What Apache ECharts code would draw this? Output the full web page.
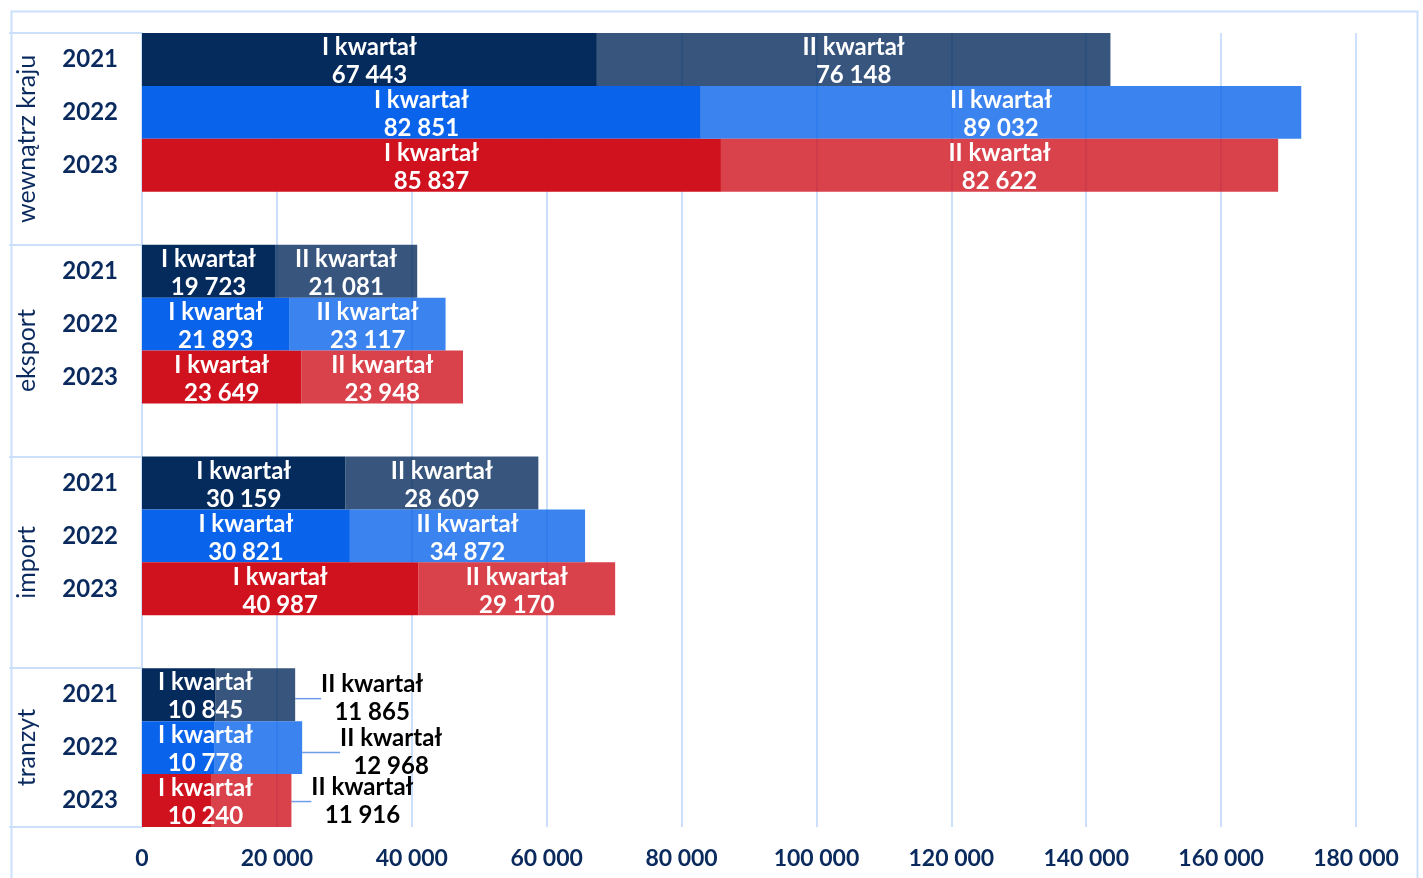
<!DOCTYPE html>
<html>
<head>
<meta charset="utf-8">
<script src="https://cdn.jsdelivr.net/npm/echarts@6/dist/echarts.min.js"></script>
<style>
html,body{margin:0;padding:0;background:#fff;}
#chart{width:1423px;height:878px;}
</style>
</head>
<body>
<div id="chart"></div>
<script>
// ---- data ----
const groups = ['wewnątrz kraju', 'eksport', 'import', 'tranzyt'];
const years = ['2021', '2022', '2023'];
const seriesNames = ['I kwartał', 'II kwartał'];
const q1Wewnatrz = [67443, 82851, 85837];
const q2Wewnatrz = [76148, 89032, 82622];
const q1Eksport = [19723, 21893, 23649];
const q2Eksport = [21081, 23117, 23948];
const q1Import = [30159, 30821, 40987];
const q2Import = [28609, 34872, 29170];
const q1Tranzyt = [10845, 10778, 10240];
const q2Tranzyt = [11865, 12968, 11916];
const xTicks = [0, 20000, 40000, 60000, 80000, 100000, 120000, 140000, 160000, 180000];

const q1ByGroup = [q1Wewnatrz, q1Eksport, q1Import, q1Tranzyt];
const q2ByGroup = [q2Wewnatrz, q2Eksport, q2Import, q2Tranzyt];

// ---- styles ----
const navy = '#0a2a5e';
const gridBlue = '#cde0fb';
const yearColors = ['#052a5c', '#0a64eb', '#d0121e'];
const yearColorsLight = ['rgba(5,42,92,0.8)', 'rgba(10,100,235,0.8)', 'rgba(208,18,30,0.8)'];
const fontFamily = 'Lato, "Noto Sans", sans-serif';
const outsideShift = [[72, 4], [84, 5], [66, 1]];
const insideDy = 2;

// ---- build rows ----
const rows = [];
const boundaries = [0];
const groupCenters = {};
groups.forEach((g, gi) => {
  const start = rows.length;
  years.forEach((y, yi) => {
    rows.push({ key: g + '|' + y, group: gi, year: yi, q1: q1ByGroup[gi][yi], q2: q2ByGroup[gi][yi] });
  });
  if (gi < groups.length - 1) rows.push({ key: g + '|', group: gi, year: -1 });
  boundaries.push(rows.length);
  groupCenters[(start + rows.length) / 2] = g;
});
const centerValues = Object.keys(groupCenters).map(Number);

const fmt = v => String(v).replace(/\B(?=(\d{3})+(?!\d))/g, ' ');

const q1Data = rows.map(r => r.year < 0 ? '-' : {
  value: r.q1,
  itemStyle: { color: yearColors[r.year] }
});
const q2Data = rows.map(r => {
  if (r.year < 0) return '-';
  const item = { value: r.q2, itemStyle: { color: yearColorsLight[r.year] } };
  if (r.q2 < 15000) {
    item.label = { position: 'right', align: 'center', color: '#000', distance: 5 };
    item.labelLine = { show: true, smooth: true, length2: 0, lineStyle: { color: '#6e9ee8', width: 1.5 } };
  }
  return item;
});

const labelBase = {
  show: true,
  position: 'inside',
  color: '#fff',
  fontFamily: fontFamily,
  fontWeight: 'bold',
  fontSize: 24,
  lineHeight: 28,
  formatter: p => p.seriesName + '\n' + fmt(p.value)
};

const chart = echarts.init(document.getElementById('chart'), null, { renderer: 'canvas' });
chart.setOption({
  backgroundColor: '#fff',
  animation: false,
  textStyle: { fontFamily: fontFamily },
  grid: { left: 142, right: 67, top: 33, bottom: 51, containLabel: false },
  graphic: [{
    type: 'rect', left: 9, top: 9, silent: true, z: -1,
    shape: { width: 1406, height: 900 },
    style: { fill: 'none', stroke: gridBlue, lineWidth: 2 }
  }],
  xAxis: {
    type: 'value', min: 0, max: xTicks[xTicks.length - 1], interval: xTicks[1] - xTicks[0],
    axisLine: { show: false }, axisTick: { show: false },
    splitLine: { show: true, lineStyle: { color: gridBlue, width: 2 } },
    axisLabel: {
      color: navy, fontSize: 23, fontWeight: 'bold', fontFamily: fontFamily, margin: 20,
      formatter: v => fmt(v)
    }
  },
  yAxis: [{
    type: 'category',
    inverse: true,
    data: rows.map(r => r.key),
    axisLine: { show: false }, axisTick: { show: false },
    splitLine: { show: false },
    axisLabel: {
      color: navy, fontSize: 24, fontWeight: 'bold', fontFamily: fontFamily, margin: 24,
      formatter: v => v.split('|')[1]
    }
  }, {
    type: 'value',
    position: 'left',
    inverse: true,
    min: 0, max: rows.length,
    axisLine: { show: true, lineStyle: { color: gridBlue, width: 2 } },
    axisTick: { show: true, customValues: boundaries, length: 133, inside: false, lineStyle: { color: gridBlue, width: 2 } },
    splitLine: { show: false },
    axisLabel: {
      customValues: centerValues,
      rotate: 90,
      margin: 103,
      color: navy, fontSize: 25, fontFamily: fontFamily,
      formatter: v => groupCenters[v] || ''
    }
  }],
  series: [{
    name: seriesNames[0], type: 'bar', stack: 'total', yAxisIndex: 0,
    barCategoryGap: '0%', barGap: '0%',
    data: q1Data,
    label: labelBase,
    labelLayout: function (p) {
      const minX = p.rect.x + 16;
      const dx = p.labelRect.x < minX ? minX - p.labelRect.x : 0;
      return { dx: dx, dy: insideDy };
    }
  }, {
    name: seriesNames[1], type: 'bar', stack: 'total', yAxisIndex: 0,
    barCategoryGap: '0%', barGap: '0%',
    data: q2Data,
    label: labelBase,
    labelLayout: function (p) {
      const r = rows[p.dataIndex];
      if (r && r.q2 < 15000) {
        const s = outsideShift[r.year];
        return { dx: s[0], dy: s[1] };
      }
      return { dy: insideDy };
    }
  }]
});
</script>
</body>
</html>
